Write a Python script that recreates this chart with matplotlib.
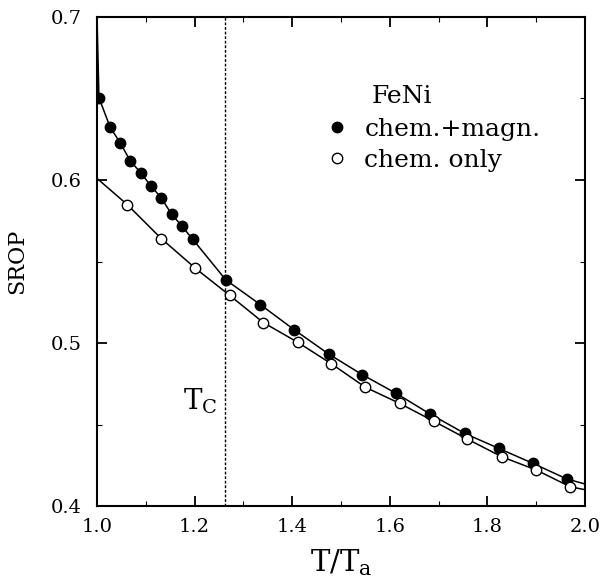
import matplotlib
matplotlib.use("Agg")
import matplotlib.pyplot as plt
from matplotlib.ticker import MultipleLocator
from matplotlib.lines import Line2D

plt.rcParams['font.family'] = ['DejaVu Serif']
plt.rcParams['mathtext.fontset'] = 'dejavuserif'

# chem.+magn. (filled) points
T_mag = [1.004, 1.027, 1.0475, 1.068, 1.090, 1.110, 1.1315, 1.1527, 1.1738, 1.1957,
         1.264, 1.335, 1.4047, 1.4744, 1.5434, 1.613, 1.6828, 1.7531, 1.8228, 1.893, 1.9627]
S_mag = [0.6505, 0.6323, 0.6229, 0.6118, 0.6043, 0.5965, 0.5891, 0.5791, 0.5718, 0.5638,
         0.5387, 0.5235, 0.508, 0.4933, 0.4806, 0.4691, 0.4564, 0.4446, 0.4354, 0.4262, 0.4166]
# curve end values (line only)
T_mag_start, S_mag_start = 1.0, 0.700
T_mag_end, S_mag_end = 2.0, 0.4135

# chem. only (open) points
T_chem = [1.062, 1.132, 1.2018, 1.272, 1.341, 1.4115, 1.48, 1.5502, 1.6199, 1.6896,
          1.7586, 1.8295, 1.90, 1.9697]
S_chem = [0.5849, 0.564, 0.5458, 0.5292, 0.5125, 0.5004, 0.4873, 0.4728, 0.463, 0.4521,
          0.4411, 0.4302, 0.4221, 0.4118]
T_chem_start, S_chem_start = 1.0, 0.601
T_chem_end, S_chem_end = 2.0, 0.410

T_c = 1.263

x_ticks = [1.0, 1.2, 1.4, 1.6, 1.8, 2.0]
y_ticks = [0.4, 0.5, 0.6, 0.7]

fig = plt.figure(figsize=(6.01, 5.86), dpi=100)
ax = fig.add_axes([97/601, 1-506/586, (585-97)/601, (506-17)/586])

line_mag_x = [T_mag_start] + T_mag + [T_mag_end]
line_mag_y = [S_mag_start] + S_mag + [S_mag_end]
line_chem_x = [T_chem_start] + T_chem + [T_chem_end]
line_chem_y = [S_chem_start] + S_chem + [S_chem_end]

ax.plot(line_mag_x, line_mag_y, color='black', lw=1.1, zorder=2)
ax.plot(line_chem_x, line_chem_y, color='black', lw=1.1, zorder=2)
ax.plot(T_mag, S_mag, 'o', ms=7.5, mfc='black', mec='black', zorder=3)
ax.plot(T_chem, S_chem, 'o', ms=7.5, mfc='white', mec='black', mew=1.0, zorder=3)

ax.axvline(T_c, color='black', lw=1.0, ls=(0, (2.0, 1.3)), zorder=1)

ax.set_xlim(1.0, 2.0)
ax.set_ylim(0.4, 0.7)
ax.set_xticks(x_ticks)
ax.set_xticklabels([f"{v:.1f}" for v in x_ticks])
ax.set_yticks(y_ticks)
ax.set_yticklabels([f"{v:.1f}" for v in y_ticks])
ax.xaxis.set_minor_locator(MultipleLocator(0.1))
ax.yaxis.set_minor_locator(MultipleLocator(0.05))

ax.tick_params(which='both', direction='in', top=True, right=True, width=1.3)
ax.tick_params(which='major', length=7, labelsize=14, pad=9)
ax.tick_params(which='minor', length=3.5, width=0.8)
ax.tick_params(axis='y', which='major', pad=11)
for s in ax.spines.values():
    s.set_linewidth(1.5)

ax.set_xlabel(r'$\mathrm{T/T_a}$', fontsize=21, labelpad=8)
ax.set_ylabel('SROP', fontsize=16, labelpad=16)

ax.text((183-97)/488, (506-410)/489, r'$\mathrm{T_C}$', transform=ax.transAxes,
        fontsize=20, ha='left', va='baseline')
ax.text((372-97)/488, (506-103)/489, 'FeNi', transform=ax.transAxes,
        fontsize=18, ha='left', va='baseline')

handles = [Line2D([], [], ls='none', marker='o', ms=7.5, mfc='black', mec='black'),
           Line2D([], [], ls='none', marker='o', ms=7.5, mfc='white', mec='black', mew=1.0)]
ax.legend(handles, ['chem.+magn.', 'chem. only'], loc='upper left',
          bbox_to_anchor=((324.5-97)/488, (506-118)/489), frameon=False,
          fontsize=18, handlelength=1.0, handletextpad=0.6, labelspacing=0.32,
          borderpad=0, borderaxespad=0)

fig.savefig('out.png', dpi=100)
